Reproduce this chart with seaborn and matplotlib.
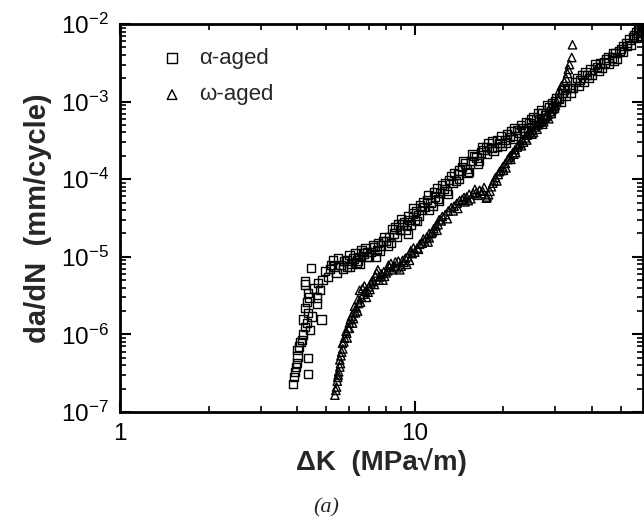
import numpy as np
import pandas as pd
import matplotlib
matplotlib.use("Agg")
import matplotlib.pyplot as plt
import seaborn as sns
from matplotlib.ticker import LogLocator, NullFormatter, FixedLocator

# ---- data ----
alpha_dk = [3.86, 3.90, 3.92, 3.95, 3.98, 4.00, 4.00, 4.34, 4.34, 4.05, 4.10, 4.14, 4.18, 4.24,
            4.17, 4.41, 4.30, 4.24, 4.35, 4.48, 4.83, 4.30, 4.34, 4.24, 4.24, 4.40, 4.65, 4.65,
            4.76, 4.55, 4.44, 4.87, 4.70, 5.07, 4.95, 5.27, 5.15, 5.43, 5.35, 5.60, 5.88, 5.75,
            6.10, 6.34, 6.20, 6.50, 6.86, 6.70, 7.10, 7.43, 7.30, 7.70, 8.00, 8.20, 8.50, 8.90,
            9.10, 9.40, 9.60, 9.85, 10.1, 10.6, 10.3, 11.0, 11.3, 11.7, 12.2, 12.6, 13.1, 13.5,
            14.0, 14.5, 15.0, 15.6, 16.2, 16.8, 17.5, 18.2, 19.4, 20.2, 21.0, 22.2, 23.2, 24.5,
            25.8, 27.1, 28.6, 30.0, 31.7, 33.5, 36.3, 38.5, 41.5, 44.0, 46.8, 49.5, 52.3, 55.0,
            57.9, 59.5,
            5.2, 5.5, 5.7, 5.9, 6.0, 6.3, 6.4, 6.6, 6.8, 7.0, 7.2, 7.5, 7.6, 7.9, 8.1, 8.4, 8.7,
            8.8, 9.0, 9.3, 9.5, 9.7, 10.0, 10.4, 10.8, 11.1, 11.5, 11.9, 12.0, 12.4, 12.9, 13.3,
            13.8, 14.2, 14.8, 15.3, 15.9, 16.5, 17.1, 17.8, 18.5, 19.0, 19.8, 20.6, 21.5, 21.8,
            22.7, 23.8, 24.2, 25.2, 26.4, 26.8, 27.8, 29.2, 29.6, 30.8, 32.5, 32.8, 34.5, 35.0,
            37.0, 37.5, 39.5, 40.0, 42.5, 43.0, 45.5, 45.5, 48.0, 48.5, 51.0, 51.0, 53.5, 54.0,
            56.5, 56.5, 58.5, 58.5, 59.3,
            6.0, 6.5, 6.9, 7.4, 7.8, 8.3, 8.6, 9.2, 9.5, 9.9, 10.2, 10.7, 11.2, 11.6, 12.1, 12.7,
            13.0, 13.6, 14.1, 14.6, 15.1, 15.7, 16.4, 17.0, 17.6, 18.3, 19.0, 19.6, 20.3, 21.2,
            22.0, 22.9, 23.5, 24.8, 25.5, 26.2, 27.5, 28.2, 29.0, 30.3, 31.2, 32.0, 33.8, 35.5,
            36.0, 38.0, 39.0, 41.0, 42.0, 44.5, 47.0, 47.5, 50.0, 52.5, 55.5, 57.2, 58.0, 59.0]
alpha_rate = [2.3e-7, 2.8e-7, 3.3e-7, 3.8e-7, 4.3e-7, 5.2e-7, 6.3e-7, 3.1e-7, 5.0e-7, 7.0e-7,
              8.0e-7, 8.5e-7, 1.0e-6, 1.25e-6, 1.55e-6, 1.15e-6, 1.4e-6, 2.2e-6, 1.9e-6, 1.7e-6,
              1.55e-6, 2.6e-6, 3.4e-6, 4.4e-6, 4.8e-6, 3.0e-6, 3.0e-6, 2.5e-6, 3.7e-6, 3.9e-6,
              7.2e-6, 5.0e-6, 4.6e-6, 5.5e-6, 6.5e-6, 9.1e-6, 7.0e-6, 6.2e-6, 7.5e-6, 7.8e-6,
              7.4e-6, 8.8e-6, 8.0e-6, 8.3e-6, 9.5e-6, 1.0e-5, 1.0e-5, 1.1e-5, 1.15e-5, 1.23e-5,
              1.35e-5, 1.4e-5, 1.6e-5, 1.8e-5, 2.0e-5, 2.2e-5, 2.6e-5, 2.5e-5, 3.0e-5, 3.6e-5,
              3.9e-5, 4.0e-5, 3.4e-5, 5.4e-5, 5.0e-5, 6.0e-5, 6.6e-5, 7.5e-5, 9.8e-5, 9.0e-5,
              1.15e-4, 1.44e-4, 1.35e-4, 1.7e-4, 1.9e-4, 2.2e-4, 2.6e-4, 2.5e-4, 2.9e-4, 3.2e-4,
              3.5e-4, 4.3e-4, 4.6e-4, 5.3e-4, 6.0e-4, 7.0e-4, 8.5e-4, 1.0e-3, 1.3e-3, 1.5e-3,
              1.9e-3, 2.2e-3, 2.8e-3, 3.2e-3, 3.7e-3, 4.5e-3, 5.7e-3, 6.8e-3, 8.4e-3, 9.5e-3,
              7.8e-6, 9.5e-6, 7.0e-6, 9.0e-6, 1.05e-5, 1.1e-5, 9.0e-6, 1.2e-5, 1.3e-5, 1.0e-5,
              1.4e-5, 1.5e-5, 1.2e-5, 1.8e-5, 1.4e-5, 2.3e-5, 1.8e-5, 2.6e-5, 3.1e-5, 2.2e-5,
              3.3e-5, 2.6e-5, 3.0e-5, 4.6e-5, 4.4e-5, 6.2e-5, 4.5e-5, 7.6e-5, 5.6e-5, 8.5e-5,
              7.0e-5, 1.1e-4, 9.5e-5, 1.3e-4, 1.6e-4, 1.25e-4, 2.0e-4, 1.7e-4, 2.4e-4, 2.9e-4,
              2.3e-4, 3.2e-4, 2.7e-4, 3.8e-4, 3.3e-4, 4.6e-4, 4.0e-4, 5.5e-4, 4.6e-4, 6.3e-4,
              5.6e-4, 7.8e-4, 6.6e-4, 9.5e-4, 8.2e-4, 1.1e-3, 1.2e-3, 1.5e-3, 1.5e-3, 1.8e-3,
              2.2e-3, 1.8e-3, 2.6e-3, 2.2e-3, 3.1e-3, 2.7e-3, 3.7e-3, 3.1e-3, 4.2e-3, 3.6e-3,
              5.2e-3, 4.4e-3, 6.3e-3, 5.4e-3, 7.8e-3, 6.6e-3, 9.0e-3, 7.6e-3, 8.4e-3,
              7.5e-6, 8.0e-6, 1.15e-5, 1.0e-5, 1.6e-5, 1.5e-5, 2.4e-5, 2.8e-5, 2.0e-5, 4.2e-5,
              2.9e-5, 5.0e-5, 4.0e-5, 6.8e-5, 5.2e-5, 9.0e-5, 6.5e-5, 1.2e-4, 1.0e-4, 1.7e-4,
              1.2e-4, 2.1e-4, 1.6e-4, 2.6e-4, 2.1e-4, 3.1e-4, 2.6e-4, 3.6e-4, 2.9e-4, 4.2e-4,
              3.6e-4, 5.0e-4, 4.2e-4, 6.0e-4, 5.0e-4, 7.2e-4, 6.2e-4, 9.0e-4, 7.5e-4, 1.1e-3,
              1.0e-3, 1.4e-3, 1.3e-3, 2.0e-3, 1.6e-3, 2.4e-3, 2.0e-3, 3.0e-3, 2.5e-3, 3.5e-3,
              4.2e-3, 3.4e-3, 4.8e-3, 5.2e-3, 7.2e-3, 8.8e-3, 7.0e-3, 9.8e-3]

omega_dk = [5.36, 5.40, 5.43, 5.46, 5.48, 5.52, 5.57, 5.57, 5.62, 5.65, 5.69, 5.78, 5.88, 5.95,
            6.00, 6.10, 6.20, 6.34, 6.42, 6.50, 6.70, 6.86, 7.00, 7.20, 7.43, 7.60, 7.80, 8.00,
            8.20, 8.50, 8.90, 9.20, 9.47, 9.80, 10.2, 10.6, 11.0, 11.4, 11.8, 12.4, 13.0, 13.9,
            14.5, 15.0, 15.8, 16.6, 17.5, 18.0, 18.4, 19.2, 19.9, 20.7, 21.5, 22.3, 23.2, 24.1,
            25.1, 26.1, 27.1, 28.3, 29.4, 30.3, 31.0, 32.2, 33.0, 33.5, 34.1, 34.3,
            5.5, 5.6, 5.7, 5.75, 5.85, 5.9, 6.05, 6.15, 6.25, 6.3, 6.45, 6.6, 6.65, 6.8, 6.95,
            7.1, 7.3, 7.35, 7.5, 7.7, 7.9, 8.1, 8.3, 8.4, 8.7, 8.8, 9.0, 9.3, 9.6, 9.7, 10.0,
            10.4, 10.8, 11.2, 11.2, 11.6, 12.0, 12.1, 12.7, 13.3, 13.5, 14.2, 14.8, 15.3, 15.5,
            16.2, 16.9, 17.2, 17.8, 18.2, 18.8, 19.0, 19.6, 20.3, 20.4, 21.1, 21.2, 21.9, 22.0,
            22.8, 23.0, 23.7, 24.0, 24.6, 25.0, 25.6, 26.0, 26.6, 27.2, 27.7, 28.5, 28.9, 29.8,
            30.6, 31.5, 32.6, 33.2,
            6.0, 6.2, 6.4, 6.55, 6.75, 7.05, 7.25, 7.55, 7.85, 8.15, 8.6, 9.1, 9.4, 9.9, 10.3,
            10.7, 11.1, 11.5, 11.9, 12.3, 12.9, 13.6, 14.0, 14.7, 15.2, 16.0, 16.4, 17.0, 17.6,
            18.6, 19.4, 20.0, 20.9, 21.7, 22.5, 23.4, 24.3, 25.3, 26.3, 27.4, 28.0, 29.1, 30.0]
omega_rate = [1.65e-7, 1.9e-7, 2.1e-7, 2.5e-7, 2.8e-7, 3.3e-7, 3.8e-7, 4.7e-7, 5.3e-7, 5.9e-7,
              7.7e-7, 9.0e-7, 1.04e-6, 1.2e-6, 1.4e-6, 1.7e-6, 1.9e-6, 2.2e-6, 2.8e-6, 3.7e-6,
              3.3e-6, 3.0e-6, 4.1e-6, 5.0e-6, 6.2e-6, 5.5e-6, 5.0e-6, 6.2e-6, 7.4e-6, 7.6e-6,
              6.8e-6, 8.5e-6, 1.0e-5, 1.1e-5, 1.3e-5, 1.5e-5, 1.8e-5, 2.0e-5, 2.5e-5, 3.3e-5,
              3.9e-5, 4.9e-5, 5.5e-5, 5.9e-5, 6.5e-5, 7.2e-5, 5.7e-5, 7.0e-5, 8.9e-5, 1.15e-4,
              1.44e-4, 1.8e-4, 2.2e-4, 2.6e-4, 3.2e-4, 3.7e-4, 4.3e-4, 5.0e-4, 5.8e-4, 6.8e-4,
              8.0e-4, 1.0e-3, 1.4e-3, 1.8e-3, 2.3e-3, 3.0e-3, 3.7e-3, 5.4e-3,
              3.0e-7, 4.2e-7, 6.5e-7, 8.0e-7, 1.1e-6, 9.0e-7, 1.55e-6, 1.4e-6, 2.3e-6, 1.9e-6,
              2.5e-6, 3.0e-6, 3.9e-6, 3.6e-6, 3.5e-6, 4.6e-6, 4.4e-6, 5.6e-6, 6.8e-6, 6.0e-6,
              5.6e-6, 6.6e-6, 8.2e-6, 6.8e-6, 7.2e-6, 8.8e-6, 7.6e-6, 9.6e-6, 9.0e-6, 1.2e-5,
              1.15e-5, 1.45e-5, 1.6e-5, 2.0e-5, 1.75e-5, 2.3e-5, 2.6e-5, 3.0e-5, 3.5e-5, 4.3e-5,
              3.9e-5, 5.3e-5, 5.1e-5, 6.4e-5, 5.6e-5, 6.8e-5, 6.5e-5, 7.8e-5, 6.3e-5, 8.0e-5,
              1.05e-4, 9.5e-5, 1.3e-4, 1.6e-4, 1.4e-4, 2.0e-4, 1.8e-4, 2.4e-4, 2.2e-4, 2.9e-4,
              2.7e-4, 3.4e-4, 3.2e-4, 4.0e-4, 3.8e-4, 4.7e-4, 4.4e-4, 5.4e-4, 5.1e-4, 6.3e-4,
              6.0e-4, 7.4e-4, 8.6e-4, 1.1e-3, 1.6e-3, 2.0e-3, 2.6e-3,
              1.2e-6, 1.6e-6, 2.0e-6, 2.6e-6, 4.2e-6, 3.8e-6, 4.8e-6, 5.0e-6, 6.4e-6, 7.8e-6,
              8.6e-6, 9.0e-6, 8.0e-6, 1.3e-5, 1.25e-5, 1.7e-5, 1.55e-5, 2.1e-5, 2.2e-5, 2.9e-5,
              3.1e-5, 4.5e-5, 4.2e-5, 5.8e-5, 5.3e-5, 7.4e-5, 6.2e-5, 7.0e-5, 5.9e-5, 9.5e-5,
              1.25e-4, 1.3e-4, 1.9e-4, 2.1e-4, 2.8e-4, 3.0e-4, 3.9e-4, 4.0e-4, 5.2e-4, 5.5e-4,
              6.6e-4, 7.0e-4, 9.0e-4]

series_labels = ["α-aged", "ω-aged"]

df_a = pd.DataFrame({"dK": alpha_dk, "rate": alpha_rate})
df_w = pd.DataFrame({"dK": omega_dk, "rate": omega_rate})

sns.set_style("ticks")
plt.rcParams["font.family"] = ["Liberation Sans", "DejaVu Sans"]
plt.rcParams["mathtext.fontset"] = "custom"
plt.rcParams["mathtext.rm"] = "Liberation Sans"
plt.rcParams["mathtext.it"] = "Liberation Sans:italic"
plt.rcParams["mathtext.bf"] = "Liberation Sans:bold"

fig = plt.figure(figsize=(6.44, 5.21), dpi=100)
ax = fig.add_axes([120 / 644, 1 - 412 / 521, 523 / 644, 388 / 521])

sns.scatterplot(data=df_a, x="dK", y="rate", ax=ax, marker="s", s=36,
                facecolor="none", edgecolor="black", linewidth=1.0, label=series_labels[0])
sns.scatterplot(data=df_w, x="dK", y="rate", ax=ax, marker="^", s=36,
                facecolor="none", edgecolor="black", linewidth=1.0, label=series_labels[1])

ax.set_xscale("log")
ax.set_yscale("log")
ax.set_xlim(1, 59.5)
ax.set_ylim(1e-7, 1e-2)

ax.xaxis.set_major_locator(FixedLocator([1, 10]))
ax.xaxis.set_minor_locator(LogLocator(base=10, subs=np.arange(2, 10)))
ax.xaxis.set_minor_formatter(NullFormatter())
ax.yaxis.set_major_locator(LogLocator(base=10, numticks=10))
ax.yaxis.set_minor_locator(LogLocator(base=10, subs=np.arange(2, 10), numticks=10))
ax.yaxis.set_minor_formatter(NullFormatter())
ax.set_xticklabels(["1", "10"])

for s in ax.spines.values():
    s.set_linewidth(2.0)
    s.set_color("black")
ax.tick_params(which="both", direction="in", top=True, right=True, colors="black")
ax.tick_params(which="major", length=8, width=1.5, labelsize=17.5, pad=8)
ax.tick_params(which="minor", length=4, width=1.2)

ax.set_xlabel("ΔK  (MPa√m)", fontsize=20, fontweight="bold", labelpad=2)
ax.set_ylabel("da/dN  (mm/cycle)", fontsize=21, fontweight="bold", labelpad=6)

leg = ax.legend(loc="upper left", bbox_to_anchor=(0.04, 0.99), frameon=False,
                fontsize=16, handlelength=1.0, handletextpad=0.7, labelspacing=0.7,
                markerscale=1.15)

fig.text(326 / 644, 1 - 508 / 521, "(a)", fontsize=16, style="italic",
         family="Liberation Serif", ha="center", va="center")

fig.savefig("out.png", dpi=100)
